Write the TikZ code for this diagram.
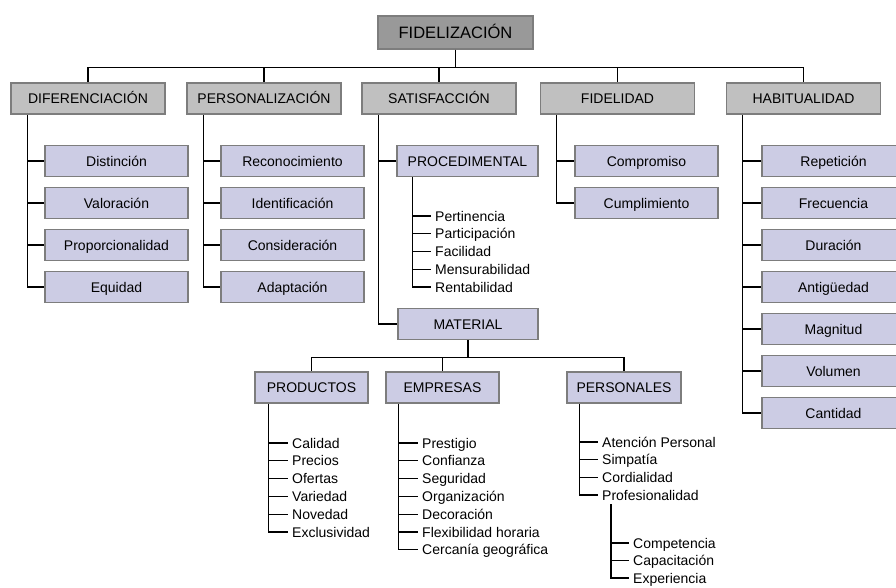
\documentclass[tikz,border=0pt]{standalone}
\usepackage{fontspec}
\setmainfont{Liberation Sans}
\definecolor{topgray}{RGB}{153,153,153}
\definecolor{headgray}{RGB}{192,192,192}
\definecolor{lav}{RGB}{204,204,228}
\definecolor{edge}{RGB}{125,125,125}
\tikzset{
  boxbase/.style={draw=edge, line width=1.5pt, inner sep=0pt,
    text height=10pt, text depth=0pt, font=\fontsize{14}{16}\selectfont},
  topbox/.style={boxbase, fill=topgray, minimum width=155pt, minimum height=33pt,
    text height=11.5pt, font=\fontsize{16.5}{18}\selectfont},
  headbox/.style={boxbase, fill=headgray, minimum width=154pt, minimum height=31pt},
  subbox/.style={boxbase, fill=lav, minimum width=143pt, minimum height=31pt},
  midbox/.style={boxbase, fill=lav, minimum width=113pt, minimum height=31pt},
  item/.style={anchor=west, inner sep=0pt, text height=10pt, text depth=0pt,
    font=\fontsize{14}{16}\selectfont},
  link/.style={draw=black, line width=1.3pt}
}
\begin{document}
\begin{tikzpicture}[x=1pt,y=-1pt]
\useasboundingbox (0,0) rectangle (896,587);
\clip (0,0) rectangle (896,587);
\fill[white] (0,0) rectangle (896,587);

% root and first level
\node[topbox] (fid) at (455.5,32.5) {FIDELIZACIÓN};
\node[headbox] (dif) at (88,98.5) {DIFERENCIACIÓN};
\node[headbox] (per) at (264,98.5) {PERSONALIZACIÓN};
\node[headbox] (sat) at (439,98.5) {SATISFACCIÓN};
\node[headbox] (fdl) at (617.5,98.5) {FIDELIDAD};
\node[headbox] (hab) at (803.5,98.5) {HABITUALIDAD};
\foreach \n in {dif,per,sat,fdl,hab}
  \draw[link] (fid.south) -- ++(0,18) -| (\n.north);

% Diferenciación
\node[subbox] (d1) at (116.5,161) {Distinción};
\node[subbox] (d2) at (116.5,203) {Valoración};
\node[subbox] (d3) at (116.5,245) {Proporcionalidad};
\node[subbox] (d4) at (116.5,287) {Equidad};
\coordinate (td) at ([xshift=17pt]dif.south west);
\draw[link] (td) |- (d4.west);
\foreach \n in {d1,d2,d3} \draw[link] (td |- \n.west) -- (\n.west);

% Personalización
\node[subbox] (p1) at (292.5,161) {Reconocimiento};
\node[subbox] (p2) at (292.5,203) {Identificación};
\node[subbox] (p3) at (292.5,245) {Consideración};
\node[subbox] (p4) at (292.5,287) {Adaptación};
\coordinate (tp) at ([xshift=17pt]per.south west);
\draw[link] (tp) |- (p4.west);
\foreach \n in {p1,p2,p3} \draw[link] (tp |- \n.west) -- (\n.west);

% Satisfacción
\node[subbox, minimum width=141pt] (proc) at (467.5,161) {PROCEDIMENTAL};
\node[subbox, minimum width=140pt] (mat) at (468,324) {MATERIAL};
\coordinate (ts) at ([xshift=17pt]sat.south west);
\draw[link] (ts) |- (mat.west);
\draw[link] (ts |- proc.west) -- (proc.west);

% Procedimental list
\node[item] (q1) at (435,216) {Pertinencia};
\node[item] (q2) at (435,233.75) {Participación};
\node[item] (q3) at (435,251.5) {Facilidad};
\node[item] (q4) at (435,269.25) {Mensurabilidad};
\node[item] (q5) at (435,287) {Rentabilidad};
\coordinate (tq) at ([xshift=16pt]proc.south west);
\draw[link] (tq) |- ([xshift=-4pt]q5.west);
\foreach \n in {q1,q2,q3,q4} \draw[link] (tq |- \n.west) -- ([xshift=-4pt]\n.west);

% Fidelidad
\node[subbox] (f1) at (646.5,161) {Compromiso};
\node[subbox] (f2) at (646.5,203) {Cumplimiento};
\coordinate (tf) at ([xshift=17pt]fdl.south west);
\draw[link] (tf) |- (f2.west);
\draw[link] (tf |- f1.west) -- (f1.west);

% Habitualidad
\node[subbox] (h1) at (833.5,161) {Repetición};
\node[subbox] (h2) at (833.5,203) {Frecuencia};
\node[subbox] (h3) at (833.5,245) {Duración};
\node[subbox] (h4) at (833.5,287) {Antigüedad};
\node[subbox] (h5) at (833.5,329) {Magnitud};
\node[subbox] (h6) at (833.5,371) {Volumen};
\node[subbox] (h7) at (833.5,413) {Cantidad};
\coordinate (th) at ([xshift=17pt]hab.south west);
\draw[link] (th) |- (h7.west);
\foreach \n in {h1,h2,h3,h4,h5,h6} \draw[link] (th |- \n.west) -- (\n.west);

% Material
\node[midbox] (prd) at (311.5,387.5) {PRODUCTOS};
\node[midbox] (emp) at (442.5,387.5) {EMPRESAS};
\node[midbox, minimum width=114pt] (prs) at (624,387.5) {PERSONALES};
\foreach \n in {prd,emp,prs}
  \draw[link] (mat.south) -- ++(0,17) -| (\n.north);

% Productos list
\foreach \t [count=\i from 0] in {Calidad,Precios,Ofertas,Variedad,Novedad,Exclusividad}
  \node[item] (r\i) at (292,443+17.8*\i) {\t};
\coordinate (tr) at ([xshift=14pt]prd.south west);
\draw[link] (tr) |- ([xshift=-4pt]r5.west);
\foreach \n in {r0,r1,r2,r3,r4} \draw[link] (tr |- \n.west) -- ([xshift=-4pt]\n.west);

% Empresas list
\foreach \t [count=\i from 0] in {Prestigio,Confianza,Seguridad,Organización,Decoración,Flexibilidad horaria,Cercanía geográfica}
  \node[item] (e\i) at (422,443+17.8*\i) {\t};
\coordinate (te) at ([xshift=13pt]emp.south west);
\draw[link] (te) |- ([xshift=-4pt]e6.west);
\foreach \n in {e0,e1,e2,e3,e4,e5} \draw[link] (te |- \n.west) -- ([xshift=-4pt]\n.west);

% Personales list
\foreach \t [count=\i from 0] in {Atención Personal,Simpatía,Cordialidad,Profesionalidad}
  \node[item] (s\i) at (602,442+17.7*\i) {\t};
\coordinate (tt) at ([xshift=13pt]prs.south west);
\draw[link] (tt) |- ([xshift=-4pt]s3.west);
\foreach \n in {s0,s1,s2} \draw[link] (tt |- \n.west) -- ([xshift=-4pt]\n.west);

% Profesionalidad list
\foreach \t [count=\i from 0] in {Competencia,Capacitación,Experiencia}
  \node[item] (v\i) at (633,543+17.5*\i) {\t};
\coordinate (tv) at (611,504);
\draw[link] (tv) |- ([xshift=-4pt]v2.west);
\foreach \n in {v0,v1} \draw[link] (tv |- \n.west) -- ([xshift=-4pt]\n.west);
\end{tikzpicture}
\end{document}
